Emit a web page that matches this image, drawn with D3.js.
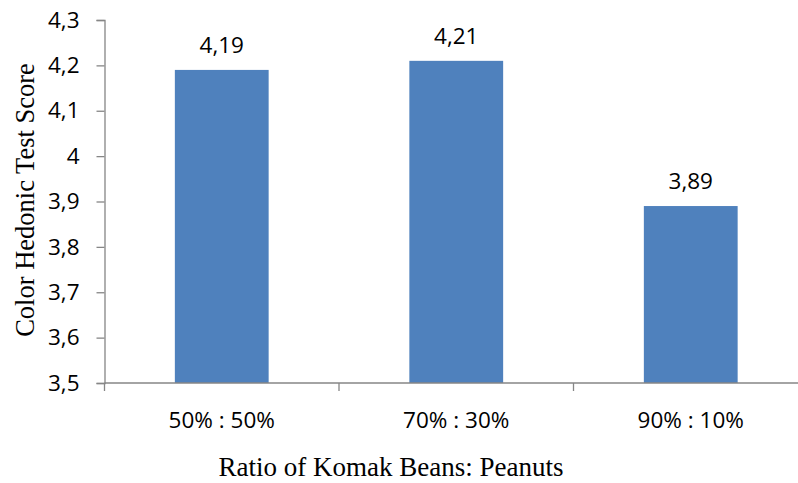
<!DOCTYPE html>
<html>
<head>
<meta charset="utf-8">
<script src="https://cdn.jsdelivr.net/npm/d3@7/dist/d3.min.js"></script>
<style>
  html, body { margin: 0; padding: 0; background: #fff; }
  svg { display: block; }
</style>
</head>
<body>
<svg id="chart" width="798" height="483"></svg>
<script>
// Color hedonic test scores per bean ratio
const categories = ["50% : 50%", "70% : 30%", "90% : 10%"];
const scores = [4.19, 4.21, 3.89];
const yTicks = [3.5, 3.6, 3.7, 3.8, 3.9, 4.0, 4.1, 4.2, 4.3];

const svg = d3.select("#chart");
const fmt = v => d3.format(".2~f")(v).replace(".", ",");
const tickFmt = v => d3.format(".1~f")(v).replace(".", ",");

const plot = { left: 104.5, right: 808, top: 20, bottom: 383 };

const x = d3.scaleBand()
  .domain(categories)
  .range([plot.left, plot.right])
  .paddingInner(0.6)
  .paddingOuter(0.3);

const y = d3.scaleLinear()
  .domain([3.5, 4.3])
  .range([plot.bottom, plot.top]);

const axisColor = "#868686";
const labelFont = "'Open Sans', sans-serif";
const titleFont = "'Liberation Serif', 'Times New Roman', serif";
const labelSize = 22.5;

// bars
svg.append("g")
  .selectAll("rect")
  .data(scores)
  .join("rect")
  .attr("x", (d, i) => x(categories[i]))
  .attr("width", x.bandwidth())
  .attr("y", d => y(d))
  .attr("height", d => y(3.5) - y(d))
  .attr("fill", "#4F81BD");

// value labels
svg.append("g")
  .selectAll("text")
  .data(scores)
  .join("text")
  .attr("x", (d, i) => x(categories[i]) + x.bandwidth() / 2)
  .attr("y", d => y(d) - 17)
  .attr("text-anchor", "middle")
  .attr("font-family", labelFont)
  .attr("font-size", labelSize)
  .attr("fill", "#000")
  .text(d => fmt(d));

// y axis
const yAxis = svg.append("g")
  .attr("transform", `translate(${plot.left},0)`)
  .call(d3.axisLeft(y).tickValues(yTicks).tickFormat(tickFmt).tickSize(8).tickPadding(17));
yAxis.select(".domain").attr("stroke", axisColor).attr("stroke-width", 1.3);
yAxis.selectAll(".tick line").attr("stroke", axisColor).attr("stroke-width", 1.3);
yAxis.selectAll(".tick text")
  .attr("font-family", labelFont)
  .attr("font-size", labelSize)
  .attr("fill", "#000");

// x axis: boundary ticks between categories
const step = x.step();
const xBounds = [plot.left, plot.left + step, plot.left + 2 * step, plot.right];
const xAxisG = svg.append("g").attr("transform", `translate(0,${plot.bottom})`);
xAxisG.append("line")
  .attr("x1", plot.left).attr("x2", plot.right)
  .attr("y1", 0).attr("y2", 0)
  .attr("stroke", axisColor).attr("stroke-width", 1.3);
xAxisG.selectAll("line.tk")
  .data(xBounds)
  .join("line")
  .attr("class", "tk")
  .attr("x1", d => d).attr("x2", d => d)
  .attr("y1", 0).attr("y2", 8)
  .attr("stroke", axisColor).attr("stroke-width", 1.3);
xAxisG.selectAll("text")
  .data(categories)
  .join("text")
  .attr("x", d => x(d) + x.bandwidth() / 2)
  .attr("y", 45)
  .attr("text-anchor", "middle")
  .attr("font-family", labelFont)
  .attr("font-size", labelSize)
  .attr("fill", "#000")
  .text(d => d);

// axis titles
svg.append("text")
  .attr("x", 391)
  .attr("y", 476)
  .attr("text-anchor", "middle")
  .attr("font-family", titleFont)
  .attr("font-size", 27)
  .attr("fill", "#000")
  .text("Ratio of Komak Beans: Peanuts");

svg.append("text")
  .attr("transform", `translate(34,200) rotate(-90)`)
  .attr("text-anchor", "middle")
  .attr("font-family", titleFont)
  .attr("font-size", 26.5)
  .attr("fill", "#000")
  .text("Color Hedonic Test Score");
</script>
</body>
</html>
